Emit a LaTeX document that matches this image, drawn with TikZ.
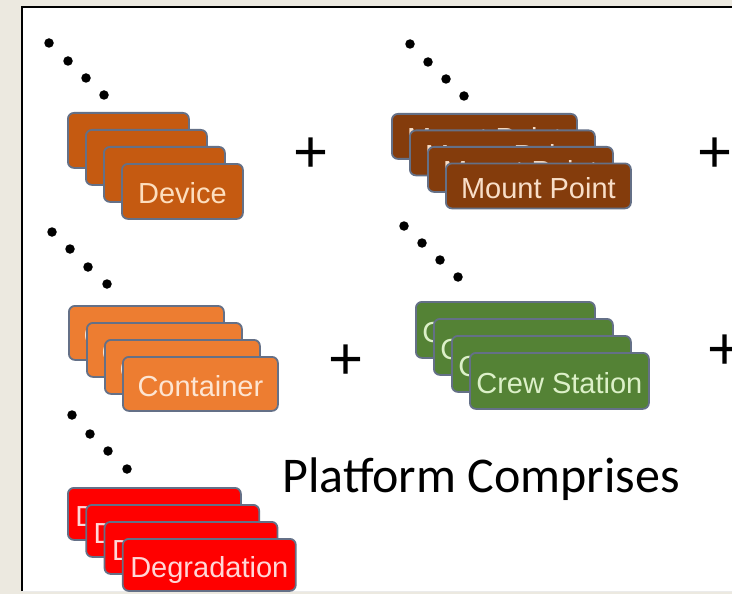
\documentclass[tikz,border=0pt]{standalone}
\usepackage{fontspec}
\setmainfont{Liberation Sans}
\newfontfamily\calfont{Carlito}
\usepackage{xcolor}
\usetikzlibrary{positioning}
\definecolor{framebg}{RGB}{236,233,224}
\definecolor{cardedge}{RGB}{100,112,135}
\definecolor{deviceorange}{RGB}{197,90,17}
\definecolor{mountbrown}{RGB}{132,60,12}
\definecolor{containerorange}{RGB}{237,125,49}
\definecolor{crewgreen}{RGB}{84,130,53}
\definecolor{degradred}{RGB}{255,0,0}
\definecolor{devicetext}{RGB}{253,222,190}
\definecolor{mounttext}{RGB}{248,222,200}
\definecolor{containertext}{RGB}{253,229,210}
\definecolor{crewtext}{RGB}{220,240,200}
\definecolor{degradtext}{RGB}{255,215,215}

\begin{document}
\begin{tikzpicture}[x=1pt, y=-1pt,
  card/.style={draw=cardedge, line width=1.8pt, rounded corners=6pt, anchor=north west,
    inner sep=0pt, text height=25pt, text depth=0pt, font=\fontsize{29}{29}\selectfont},
  dot/.style={circle, fill=black, inner sep=0pt, minimum size=9.5pt},
  plus/.style={font=\fontsize{60}{60}\selectfont}]
  \useasboundingbox (0,0) rectangle (732,594);
  \clip (0,0) rectangle (732,594);
  % Frame
  \fill[framebg] (0,0) rectangle (732,594);
  \fill[white] (22,7) rectangle (740,591);
  \draw[black!8] (22,591) -- (740,591);
  \draw[line width=2.5pt] (22,591) -- (22,7) -- (740,7);
  % Dots in front of each stack
  \foreach \p [count=\k] in {(49,43),(68,61),(86,78),(104,95)} \node[dot] (dotsdev\k) at \p {};
  \foreach \p [count=\k] in {(410,44),(428,62),(446,79),(464,96)} \node[dot] (dotsmnt\k) at \p {};
  \foreach \p [count=\k] in {(52,232),(70,249),(88,267),(107,284)} \node[dot] (dotscon\k) at \p {};
  \foreach \p [count=\k] in {(404,226),(422,243),(440,260),(458,277)} \node[dot] (dotscrew\k) at \p {};
  \foreach \p [count=\k] in {(72,415),(90,434),(108,451),(127,469)} \node[dot] (dotsdeg\k) at \p {};
  % Stacks of cards
  \foreach \i in {0,...,3}
    \node[card, fill=deviceorange, text=devicetext, minimum width=121pt, minimum height=55pt]
      (device\i) at (67+18*\i, 112+17*\i) {Device};
  \foreach \i in {0,...,3}
    \node[card, fill=mountbrown, text=mounttext, minimum width=185pt, minimum height=45pt]
      (mount\i) at (391+18*\i, 113+16.5*\i) {Mount Point};
  \foreach \i in {0,...,3}
    \node[card, fill=containerorange, text=containertext, minimum width=155pt, minimum height=54pt]
      (container\i) at (68+18*\i, 305+17*\i) {Container};
  \foreach \i in {0,...,3}
    \node[card, fill=crewgreen, text=crewtext, minimum width=179pt, minimum height=56pt]
      (crew\i) at (415+18*\i, 301+17*\i) {Crew Station};
  \foreach \i in {0,...,3}
    \node[card, fill=degradred, text=degradtext, minimum width=173pt, minimum height=52pt]
      (degrad\i) at (67+18.3*\i, 487+17*\i) {Degradation};
  % Plus signs
  \node[plus] (plusA) at (311,155) {+};
  \node[plus] (plusB) at (715,155) {+};
  \node[plus] (plusC) at (346,362) {+};
  \node[plus] (plusD) at (725,352) {+};
  % Caption
  \node[anchor=base west, inner sep=0pt, font=\calfont\fontsize{50}{50}\selectfont]
    (caption) at (282,492) {Platform Comprises};
\end{tikzpicture}
\end{document}
